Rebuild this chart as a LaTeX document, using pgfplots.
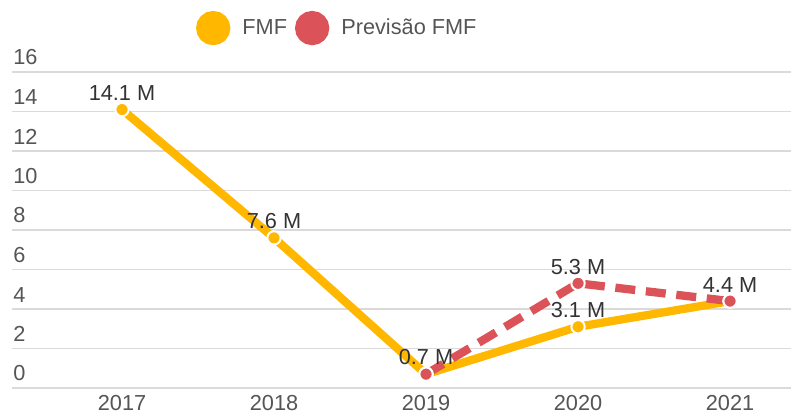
\documentclass[border=0pt]{standalone}
\usepackage{fontspec}
\setmainfont{Liberation Sans}
\usepackage{pgfplots}
\usepackage{pgfplotstable}
\pgfplotsset{compat=1.18}

\definecolor{fmfyellow}{RGB}{255,183,0}
\definecolor{fmfred}{RGB}{219,82,88}
\definecolor{gridgray}{RGB}{218,218,218}
\definecolor{ticktext}{RGB}{85,85,85}
\definecolor{labeltext}{RGB}{51,51,51}

% FMF real
\pgfplotstableread{
x y lab
0 14.1 {14.1 M}
1 7.6 {7.6 M}
2 0.7 {0.7 M}
3 3.1 {3.1 M}
4 4.4 {}
}\fmf

% Previsao FMF
\pgfplotstableread{
x y lab
2 0.7 {}
3 5.3 {5.3 M}
4 4.4 {4.4 M}
}\previsao

\begin{document}
\begin{tikzpicture}
\begin{axis}[
    at={(9pt,21.75pt)},
    anchor=south west,
    scale only axis,
    width=584.25pt,
    height=237pt,
    xmin=-0.7237, xmax=4.401,
    ymin=0, ymax=16,
    xtick={0,1,2,3,4},
    xticklabels={2017,2018,2019,2020,2021},
    ytick={0,2,...,16},
    major tick length=0pt,
    axis line style={draw=none},
    ymajorgrids,
    grid style={gridgray, line width=1.3pt},
    clip=false,
    /pgf/number format/assume math mode=true,
    tick label style={font=\fontsize{16.3}{19}\selectfont, text=ticktext},
    yticklabel style={anchor=south west, inner sep=0pt, xshift=0.75pt, yshift=5pt},
    xticklabel style={yshift=-2pt},
    point meta=explicit symbolic,
    nodes near coords,
    nodes near coords style={font=\fontsize{16.3}{19}\selectfont, text=labeltext, anchor=south, inner sep=1pt, yshift=5pt},
    legend columns=-1,
    legend style={draw=none, fill=none, inner sep=0pt, at={(0.236,1.139)}, anchor=west,
        font=\fontsize{16.3}{19}\selectfont, text=ticktext,
        /tikz/every odd column/.append style={column sep=7pt},
        /tikz/every even column/.append style={column sep=4pt}},
    legend image code/.code={\fill[#1,solid] (0pt,0pt) circle (9.75pt);},
]
\addplot[color=fmfyellow, line width=6.2pt, mark=*, mark size=5pt,
    mark options={draw=white, line width=1.5pt, fill=fmfyellow, solid}]
    table[x=x, y=y, meta=lab] {\fmf};
\addlegendentry{FMF}
\addplot[color=fmfred, line width=6.2pt, dash pattern=on 15pt off 8pt, mark=*, mark size=5pt,
    mark options={draw=white, line width=1.5pt, fill=fmfred, solid}]
    table[x=x, y=y, meta=lab] {\previsao};
\addlegendentry{Previsão FMF}
\end{axis}
\pgfresetboundingbox
\path[use as bounding box] (0,0) rectangle (593.25pt,312.75pt);
\end{tikzpicture}
\end{document}
